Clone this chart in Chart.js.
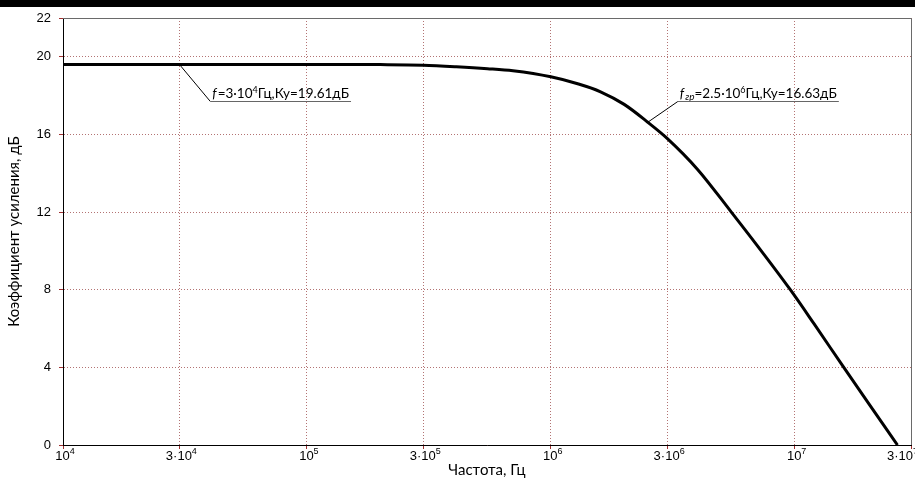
<!DOCTYPE html>
<html><head><meta charset="utf-8">
<script src="https://cdn.jsdelivr.net/npm/chart.js@4/dist/chart.umd.min.js"></script>
<style>
html,body{margin:0;padding:0;background:#fff;overflow:hidden;}
#wrap{position:absolute;left:0;top:0;width:915px;height:492px;}
#bar{position:absolute;left:0;top:0;width:915px;height:7px;background:#000;}
</style></head><body>
<div id="wrap"><canvas id="c" width="915" height="492"></canvas></div>
<div id="bar"></div>
<script>
// ---- data ----
const frequencies = [1e4, 3e4, 1e5, 2e5, 3e5, 4.1e5, 5.5e5, 7e5, 1e6, 1.3e6, 1.6e6, 2e6, 2.5e6, 3e6, 4e6, 5.5e6, 7e6, 9.6e6, 1.2e7, 1.58e7, 2e7, 2.64e7];
const gainDb      = [19.61, 19.61, 19.61, 19.60, 19.57, 19.49, 19.39, 19.28, 18.97, 18.60, 18.20, 17.55, 16.63, 15.80, 14.20, 12.0, 10.3, 8.0, 6.25, 4.05, 2.18, 0];

const xTickValues   = [1e4, 3e4, 1e5, 3e5, 1e6, 3e6, 1e7, 3e7];
const xTickMantissa = ['', '3·', '', '3·', '', '3·', '', '3·'];
const xTickExponent = ['4', '4', '5', '5', '6', '6', '7', '7'];
const yTickValues   = [0, 4, 8, 12, 16, 20, 22];

const xTitle = 'Частота, Гц';
const yTitle = 'Коэффициент усиления, дБ';

const annotFreq = [3e4, 2.5e6];
const annotGain = [19.61, 16.63];
const annotSub  = ['', 'гр'];
const annotMid  = ['=3·10', '=2.5·10'];
const annotExp  = ['4', '6'];
const annotTail = ['Гц,Ку=19.61дБ', 'Гц,Ку=16.63дБ'];

// ---- styles ----
const tickFont = '13px "Liberation Sans", Arial, sans-serif';
const supFont = '9px "Liberation Sans", Arial, sans-serif';
const annFont = '13.5px Lato, "Open Sans", sans-serif';
const annItFont = 'italic 13.5px Lato, "Open Sans", sans-serif';
const annSmallIt = 'italic 10px Lato, "Open Sans", sans-serif';
const annSup = '9px Lato, "Open Sans", sans-serif';
const leaderOffsets = [[31, 37], [30, -21]];
const gridColor = 'rgba(160,80,80,0.8)';
const tickColor = '#a03030';

const xTickPlugin = {
  id: 'xticklabels',
  afterDraw(chart) {
    const ctx = chart.ctx, x = chart.scales.x, a = chart.chartArea, top = a.bottom + 4;
    ctx.save();
    ctx.fillStyle = '#000';
    ctx.textBaseline = 'alphabetic';
    xTickValues.forEach((v, i) => {
      const px = x.getPixelForValue(v);
      ctx.font = tickFont;
      const base = xTickMantissa[i] + '10';
      const w = ctx.measureText(base).width;
      ctx.font = supFont;
      const we = ctx.measureText(xTickExponent[i]).width;
      let sx = px - (w + we) / 2 + 2;
      sx = Math.min(sx, a.right - 24);
      ctx.font = tickFont;
      ctx.fillText(base, sx, top + 11);
      ctx.font = supFont;
      ctx.fillText(xTickExponent[i], sx + w, top + 5);
    });
    ctx.restore();
  }
};

const framePlugin = {
  id: 'frame',
  afterDraw(chart) {
    const {ctx, chartArea: a} = chart;
    ctx.save();
    ctx.strokeStyle = '#6a6a6a';
    ctx.lineWidth = 1;
    ctx.beginPath();
    ctx.moveTo(a.left, a.top + 0.5); ctx.lineTo(a.right + 0.5, a.top + 0.5);
    ctx.lineTo(a.right + 0.5, a.bottom);
    ctx.stroke();
    ctx.restore();
  }
};

const annotPlugin = {
  id: 'annot',
  afterDatasetsDraw(chart) {
    const {ctx, scales: {x, y}} = chart;
    ctx.save();
    annotFreq.forEach((f, i) => {
      const ax = x.getPixelForValue(f), ay = y.getPixelForValue(annotGain[i]);
      const ex = ax + leaderOffsets[i][0], ey = Math.round(ay + leaderOffsets[i][1]) + 0.5;
      let cx = ex + 2;
      const by = ey - 4;
      ctx.fillStyle = '#000';
      ctx.textBaseline = 'alphabetic';
      ctx.font = annItFont; ctx.fillText('f', cx, by); cx += ctx.measureText('f').width + 1;
      if (annotSub[i]) { ctx.font = annSmallIt; ctx.fillText(annotSub[i], cx, by + 2); cx += ctx.measureText(annotSub[i]).width; }
      ctx.font = annFont; ctx.fillText(annotMid[i], cx, by); cx += ctx.measureText(annotMid[i]).width;
      ctx.font = annSup; ctx.fillText(annotExp[i], cx, by - 5); cx += ctx.measureText(annotExp[i]).width;
      ctx.font = annFont; ctx.fillText(annotTail[i], cx, by); cx += ctx.measureText(annotTail[i]).width;
      ctx.strokeStyle = '#000'; ctx.lineWidth = 1;
      ctx.beginPath(); ctx.moveTo(ax, ay); ctx.lineTo(ex, ey); ctx.stroke();
      ctx.strokeStyle = '#666'; ctx.lineWidth = 1.2;
      ctx.beginPath(); ctx.moveTo(ex, ey); ctx.lineTo(cx + 2, ey); ctx.stroke();
    });
    ctx.restore();
  }
};

new Chart(document.getElementById('c'), {
  type: 'line',
  data: {
    datasets: [{
      data: frequencies.map((f, i) => ({x: f, y: gainDb[i]})),
      borderColor: '#000',
      borderWidth: 3,
      pointRadius: 0,
      cubicInterpolationMode: 'monotone',
      fill: false
    }]
  },
  options: {
    responsive: false,
    animation: false,
    devicePixelRatio: 1,
    layout: {padding: {top: 18, right: 4, left: 0, bottom: 0}},
    plugins: {legend: {display: false}, tooltip: {enabled: false}},
    scales: {
      x: {
        type: 'logarithmic',
        min: 1e4, max: 3e7,
        afterBuildTicks: s => { s.ticks = xTickValues.map(v => ({value: v})); },
        afterFit: s => { s.height = 47; s.paddingLeft = 0; s.paddingRight = 0; },
        ticks: {color: 'transparent', autoSkip: false, maxRotation: 0, callback: () => ''},
        grid: {color: gridColor, lineWidth: 1, drawTicks: true, tickLength: 4, tickColor: tickColor, tickBorderDash: []},
        border: {display: true, color: '#000', width: 1, dash: [1, 2]},
        title: {display: true, text: xTitle, color: '#000', font: {family: 'Lato', size: 15}, padding: {top: 0, bottom: 13}}
      },
      y: {
        min: 0, max: 22,
        afterBuildTicks: s => { s.ticks = yTickValues.map(v => ({value: v})); },
        afterFit: s => { s.width = 63; s.paddingTop = 0; s.paddingBottom = 0; },
        ticks: {color: '#000', font: {family: '"Liberation Sans", Arial', size: 13}, padding: 8, autoSkip: false},
        grid: {color: gridColor, lineWidth: 1, drawTicks: true, tickLength: 4, tickColor: tickColor, tickBorderDash: []},
        border: {display: true, color: '#000', width: 1, dash: [1, 2]},
        title: {display: true, text: yTitle, color: '#000', font: {family: 'Lato', size: 15}, padding: {top: 5, bottom: 0}}
      }
    }
  },
  plugins: [xTickPlugin, framePlugin, annotPlugin]
});
</script>
</body></html>
